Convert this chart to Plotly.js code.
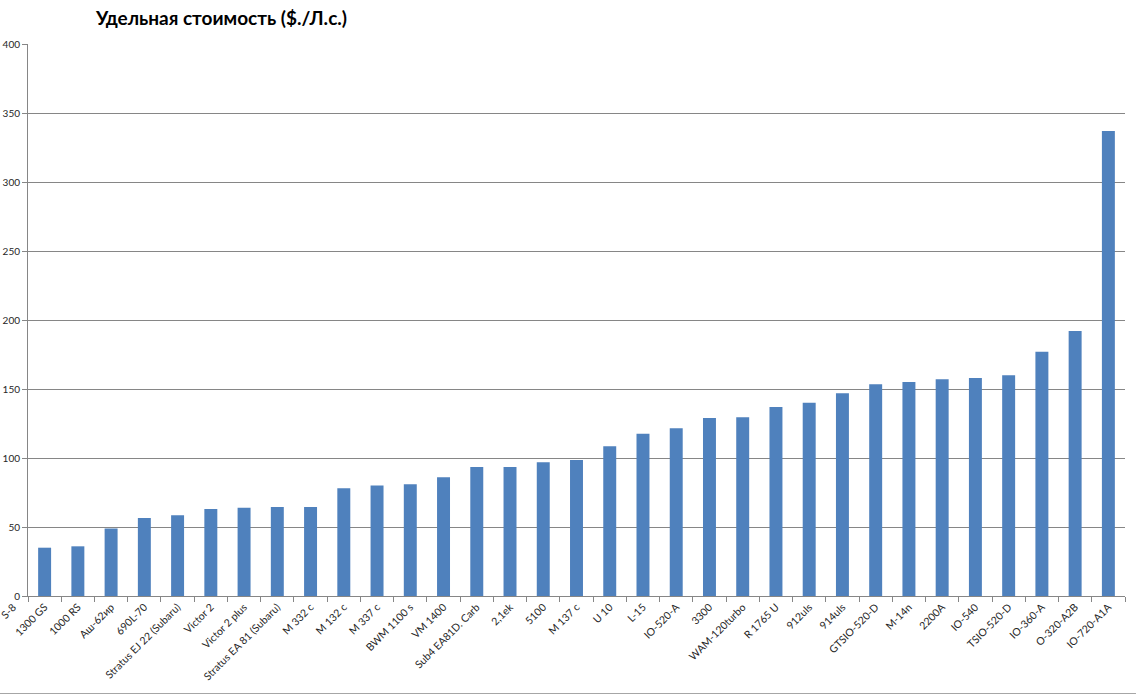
<!DOCTYPE html>
<html>
<head>
<meta charset="utf-8">
<script src="https://cdn.plot.ly/plotly-3.0.1.min.js"></script>
<style>
  html, body { margin: 0; padding: 0; background: #fff; }
  #chart { width: 1136px; height: 694px; }
</style>
</head>
<body>
<div id="chart"></div>
<script>
'use strict'

// Engine names, sorted by cost per horsepower
const engines = [
    '1300 GS', '1000 RS', 'Аш-62ир', '690L-70', 'Stratus EJ 22 (Subaru)',
    'Victor 2', 'Victor 2 plus', 'Stratus EA 81 (Subaru)', 'M 332 c', 'M 132 c',
    'M 337 c', 'BWM 1100 s', 'VM 1400', 'Sub4 EA81D. Carb', '2,1ek',
    '5100', 'M 137 c', 'U 10', 'L-15', 'IO-520-A',
    '3300', 'WAM-120turbo', 'R 1765 U', '912uls', '914uls',
    'GTSIO-520-D', 'M-14n', '2200A', 'IO-540', 'TSIO-520-D',
    'IO-360-A', 'O-320-A2B', 'IO-720-A1A'
];

// $ per hp
const costPerHp = [
    35, 36, 49, 56.5, 58.5,
    63, 64, 64.5, 64.5, 78,
    80, 81, 86, 93.5, 93.5,
    97, 98.5, 108.5, 117.5, 121.5,
    129, 129.5, 137, 140, 147,
    153.5, 155, 157, 158, 160,
    177, 192, 337
];

const yTicks = [0, 50, 100, 150, 200, 250, 300, 350, 400];

const axisColor = '#868686';
const textFont = {family: 'Lato, "Open Sans", sans-serif', size: 10.5, color: '#262626'};

let bars = {
    x: engines,
    y: costPerHp,
    type: 'bar',
    marker: {color: '#4f81bd'},
    hoverinfo: 'x+y'
};

const layout = {
    width: 1136,
    height: 694,
    margin: {l: 28, r: 11, t: 44, b: 98, autoexpand: false},
    title: {
        text: 'Удельная стоимость ($./Л.с.)',
        font: {family: 'Lato, "Open Sans", sans-serif', size: 19, color: '#000', weight: 'bold'},
        x: 0.195,
        xanchor: 'center',
        xref: 'container',
        y: 0.974,
        yanchor: 'middle'
    },
    bargap: 0.61,
    showlegend: false,
    font: textFont,
    xaxis: {
        type: 'category',
        tickangle: -45,
        tickson: 'boundaries',
        ticks: 'outside',
        ticklen: 5,
        tickcolor: axisColor,
        showline: true,
        linecolor: axisColor,
        showgrid: false,
        tickfont: textFont,
        fixedrange: true
    },
    yaxis: {
        range: [0, 400],
        tickvals: yTicks,
        ticks: 'outside',
        ticklen: 5,
        tickcolor: axisColor,
        showline: true,
        linecolor: axisColor,
        gridcolor: axisColor,
        zeroline: false,
        tickfont: {family: 'Lato, "Open Sans", sans-serif', size: 10, color: '#262626'},
        ticklabelstandoff: 0,
        fixedrange: true
    },
    // label of a category that is cut off at the left edge
    annotations: [{
        text: 'S-8',
        xref: 'paper', yref: 'paper',
        x: -0.006, y: -0.005,
        xanchor: 'right', yanchor: 'top',
        textangle: -45,
        showarrow: false,
        font: textFont
    }],
    // outer chart border at the bottom
    shapes: [{
        type: 'line',
        xref: 'paper', yref: 'paper',
        x0: -0.03, x1: 1.01, y0: -0.177, y1: -0.177,
        line: {color: '#a6a6a6', width: 1.5}
    }],
    paper_bgcolor: '#ffffff',
    plot_bgcolor: '#ffffff'
};

const config = {displayModeBar: false, staticPlot: true};

Plotly.newPlot('chart', [bars], layout, config);
</script>
</body>
</html>
